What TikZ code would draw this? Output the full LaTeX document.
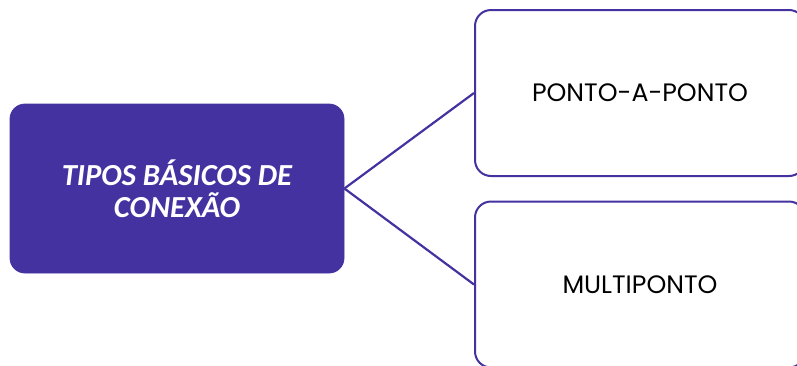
\documentclass[tikz,border=0pt]{standalone}
\usepackage{fontspec}
\newfontfamily\tiposfont{Carlito}
\newfontfamily\pontofont{Poppins}
\definecolor{roxo}{HTML}{4332A0}
\begin{document}
\begin{tikzpicture}[x=0.5pt,y=-0.5pt,
    tipo/.style={rectangle,rounded corners=7.5pt,fill=roxo,draw=roxo,text=white,align=center,
      minimum width=167pt,minimum height=84.5pt,font=\tiposfont\fontsize{15.3}{16}\selectfont\bfseries\itshape},
    ramo/.style={rectangle,rounded corners=8pt,draw=roxo,line width=1pt,fill=white,
      minimum width=165pt,minimum height=83pt,font=\pontofont\fontsize{12.6}{15}\selectfont},
    liga/.style={draw=roxo,line width=1.1pt}]
    \clip (0,0) rectangle (797,365);
    \node[tipo] (conexao) at (177,188.5) {TIPOS BÁSICOS DE\\CONEXÃO};
    \node[ramo] (ponto) at (640,93) {PONTO-A-PONTO};
    \node[ramo] (multi) at (640,284.5) {MULTIPONTO};
    \draw[liga] (conexao.east) -- (ponto.west);
    \draw[liga] (conexao.east) -- (multi.west);
\end{tikzpicture}
\end{document}
